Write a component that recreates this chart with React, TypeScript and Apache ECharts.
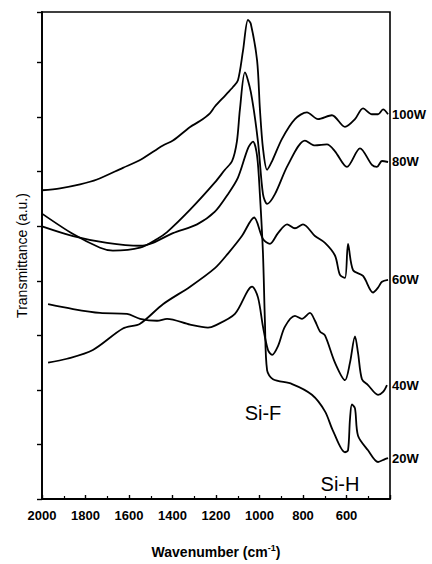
import React, { useEffect, useRef } from "react";
import * as echarts from "echarts";

// [wavenumber (cm-1), transmittance (a.u.)]
const w100: number[][] = [
  [2000, 63.4], [1917, 63.8], [1825, 64.6], [1747, 65.6], [1628, 68.0], [1549, 69.6],
  [1444, 72.6], [1398, 73.6], [1319, 76.4], [1274, 77.6], [1228, 79.2], [1205, 80.6],
  [1159, 82.8], [1122, 84.6], [1099, 86.0], [1076, 92.0], [1053, 98.4], [1040, 97.6],
  [1011, 90.0], [998, 80.0], [984, 72.0], [965, 67.6], [942, 69.4], [896, 74.0],
  [837, 78.0], [782, 79.4], [731, 78.0], [667, 78.8], [607, 76.4], [561, 78.0],
  [524, 80.2], [483, 79.0], [455, 79.0], [432, 80.0], [409, 79.0],
];
const w80: number[][] = [
  [2000, 58.6], [1857, 54.4], [1733, 51.6], [1674, 51.0], [1549, 51.6], [1471, 53.4],
  [1425, 54.8], [1319, 59.4], [1205, 65.0], [1159, 67.6], [1126, 69.4], [1104, 73.4],
  [1090, 80.0], [1067, 87.6], [1040, 83.6], [1007, 73.4], [984, 62.6], [965, 60.6],
  [929, 62.6], [869, 68.6], [791, 73.6], [745, 72.6], [690, 72.8], [653, 71.4],
  [598, 68.2], [538, 72.0], [483, 68.6], [460, 68.2], [437, 69.4], [409, 69.2],
];
const w60: number[][] = [
  [1972, 28.0], [1885, 28.8], [1766, 30.6], [1628, 35.0], [1549, 36.0], [1444, 40.0],
  [1319, 43.6], [1205, 47.4], [1145, 50.4], [1081, 54.0], [1025, 57.8], [984, 53.4],
  [952, 52.4], [915, 54.6], [873, 56.4], [837, 55.6], [800, 56.4], [745, 54.0],
  [699, 52.6], [653, 50.0], [630, 46.0], [607, 45.4], [593, 52.4], [570, 47.0],
  [524, 45.8], [478, 42.4], [455, 43.4], [437, 44.6], [409, 45.0],
];
const w40: number[][] = [
  [1972, 40.0], [1857, 39.0], [1733, 38.2], [1609, 38.0], [1549, 37.0], [1471, 36.6],
  [1425, 37.0], [1319, 35.8], [1237, 35.2], [1205, 35.6], [1113, 38.0], [1034, 43.6],
  [1007, 41.4], [984, 35.4], [961, 30.6], [942, 29.6], [915, 31.4], [883, 35.4],
  [837, 37.6], [805, 37.0], [768, 38.2], [745, 36.6], [722, 34.4], [699, 33.6],
  [653, 28.0], [607, 24.4], [584, 28.0], [561, 33.4], [547, 30.0], [529, 24.6],
  [501, 23.4], [455, 21.4], [432, 22.0], [414, 23.4],
];
const w20: number[][] = [
  [2000, 56.0], [1857, 54.0], [1701, 52.6], [1549, 52.0], [1490, 52.6], [1398, 54.6],
  [1287, 56.4], [1205, 59.0], [1145, 62.6], [1099, 66.0], [1053, 72.0], [1030, 73.4],
  [1011, 70.4], [998, 62.4], [984, 50.4], [975, 36.4], [965, 26.4], [938, 24.6],
  [850, 23.6], [759, 21.4], [699, 18.0], [662, 14.0], [607, 9.6], [593, 10.0],
  [584, 16.4], [575, 19.4], [561, 18.6], [547, 13.0], [501, 10.0], [455, 7.6],
  [423, 8.2], [409, 8.4],
];

const seriesNames = ["100W", "80W", "60W", "40W", "20W"];
const seriesData = [w100, w80, w60, w40, w20];
const xTicks = [2000, 1800, 1600, 1400, 1200, 1000, 800, 600];

const FONT = "'Liberation Sans', Arial, Helvetica, sans-serif";

export default function App() {
  const ref = useRef<HTMLDivElement>(null);
  useEffect(() => {
    document.body.style.margin = "0";
    const chart = echarts.init(ref.current!, null, { renderer: "svg" });
    chart.setOption({
      animation: false,
      backgroundColor: "#fff",
      grid: {
        left: 42, right: 42, top: 12, bottom: 52,
        show: true, borderColor: "#000", borderWidth: 1.6, backgroundColor: "transparent",
      },
      xAxis: {
        type: "value",
        min: 400, max: 2000, interval: 200, inverse: true,
        axisLine: { lineStyle: { color: "#000", width: 1.8 } },
        axisTick: { inside: true, length: 4, lineStyle: { color: "#000", width: 1.4 } },
        minorTick: { show: true, splitNumber: 2, length: 3, lineStyle: { color: "#000", width: 1.2 } },
        splitLine: { show: false },
        axisLabel: {
          margin: 10, color: "#000", fontSize: 13, fontWeight: "bold", fontFamily: FONT,
          formatter: (v: number) => (xTicks.indexOf(v) >= 0 ? String(v) : ""),
        },
        name: "{a|Wavenumber (cm}{s|-1}{a|)}",
        nameLocation: "middle",
        nameGap: 44,
        nameTextStyle: {
          rich: {
            a: { fontSize: 14, fontWeight: "bold", fontFamily: FONT, color: "#000", lineHeight: 18 },
            s: { fontSize: 9, fontWeight: "bold", fontFamily: FONT, color: "#000", verticalAlign: "top", lineHeight: 11 },
          },
        },
      },
      yAxis: {
        type: "value",
        min: 0, max: 100, interval: 11.2,
        axisLine: { show: true, lineStyle: { color: "#000", width: 1.8 } },
        axisTick: { show: true, inside: false, length: 5, lineStyle: { color: "#000", width: 1.4 } },
        axisLabel: { show: false },
        splitLine: { show: false },
        name: "Transmittance (a.u.)",
        nameLocation: "middle",
        nameGap: 13,
        nameTextStyle: { fontSize: 14, fontFamily: FONT, color: "#000" },
      },
      series: seriesNames.map((n, i) => ({
        name: n,
        type: "line",
        data: seriesData[i],
        showSymbol: false,
        smooth: 0.3,
        lineStyle: { color: "#000", width: 1.8 },
      })),
    });
    // series name labels just outside the right edge, at each curve's last point
    const labels = seriesNames.map((n, i) => {
      const d = seriesData[i];
      const last = d[d.length - 1];
      const p = chart.convertToPixel({ gridIndex: 0 }, [last[0], last[1]]) as number[];
      return {
        type: "text",
        x: 392,
        y: p[1],
        style: { text: n, fill: "#000", fontSize: 13, fontWeight: "bold", fontFamily: FONT, align: "left", verticalAlign: "middle" },
      };
    });
    chart.setOption({
      graphic: [
        {
          type: "text", x: 263, y: 413,
          style: { text: "Si-F", fill: "#000", fontSize: 20, fontFamily: FONT, align: "center", verticalAlign: "middle" },
        },
        {
          type: "text", x: 340, y: 484,
          style: { text: "Si-H", fill: "#000", fontSize: 20, fontFamily: FONT, align: "center", verticalAlign: "middle" },
        },
        ...labels,
      ],
    });
    return () => chart.dispose();
  }, []);
  return <div ref={ref} style={{ width: 432, height: 564 }} />;
}
